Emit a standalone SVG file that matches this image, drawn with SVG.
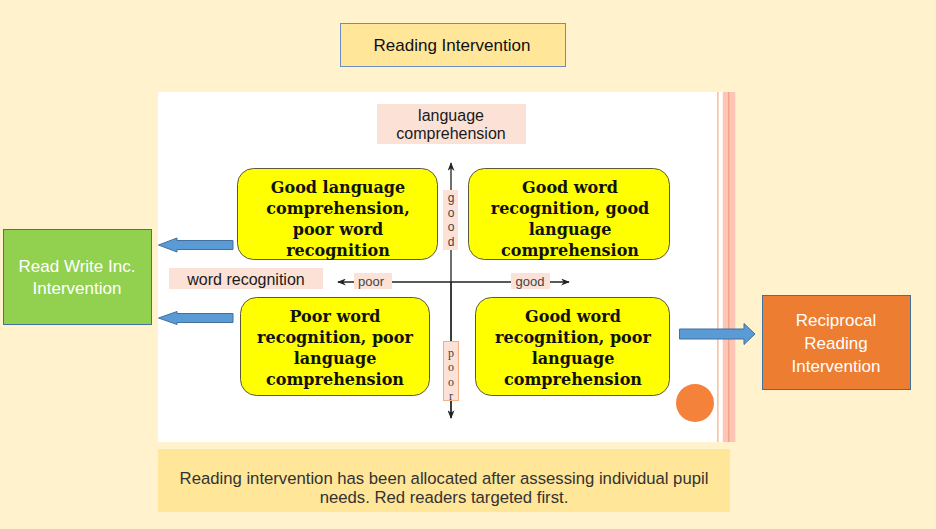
<svg xmlns="http://www.w3.org/2000/svg" width="936" height="529" viewBox="0 0 936 529">
<defs>
<style>
.sans{font-family:"Liberation Sans",Arial,sans-serif}
.quad{fill:#FFFF00;stroke:#5a5a3a;stroke-width:1}
.qt{font-family:"DejaVu Serif","Liberation Serif",serif;font-weight:bold;font-size:16px;fill:#111;text-anchor:middle}
.lbl{fill:#FCE2D6}
.lt{font-family:"Liberation Sans",Arial,sans-serif;font-size:16px;fill:#1a1a1a;text-anchor:middle}
.axl{font-family:"Liberation Sans",Arial,sans-serif;font-size:13px;fill:#444;text-anchor:middle}
.axv{font-family:"Liberation Sans",Arial,sans-serif;font-size:12px;fill:#444;text-anchor:middle}
.axs{font-family:"Liberation Serif",serif;font-size:12px;fill:#444;text-anchor:middle}
.blue{fill:#5B9BD5;stroke:#41719C;stroke-width:1}
.axis{stroke:#222;stroke-width:1.3;fill:none}
.wt{font-family:"Liberation Sans",Arial,sans-serif;font-size:17px;fill:#ffffff;text-anchor:middle}
</style>
<marker id="ah" viewBox="0 0 10 8" refX="9" refY="4" markerWidth="9" markerHeight="7" orient="auto" markerUnits="userSpaceOnUse">
<path d="M0,0 L10,4 L0,8 L3,4 z" fill="#222"/>
</marker>
</defs>
<rect x="0" y="0" width="936" height="529" fill="#FFF2CC"/>
<g id="panel">
<rect x="158" y="92" width="559" height="350" fill="#ffffff"/>
<rect x="717" y="92" width="1.8" height="350" fill="#F8C3B2"/>
<rect x="718.8" y="92" width="4" height="350" fill="#ffffff"/>
<rect x="722.8" y="92" width="12.5" height="350" fill="#FCC5B5"/>
<rect x="728" y="92" width="1.4" height="350" fill="#F2A488"/>
</g>
<g id="title">
<rect x="340.5" y="23.5" width="225" height="43" fill="#FFE699" stroke="#6C8EBF" stroke-width="1"/>
<text x="452" y="51" class="sans" font-size="17" fill="#111" text-anchor="middle">Reading Intervention</text>
</g>
<g id="axes">
<line x1="451" y1="418" x2="451" y2="163" class="axis" marker-end="url(#ah)"/>
<line x1="451" y1="282" x2="451" y2="418" class="axis" marker-end="url(#ah)"/>
<line x1="451" y1="282" x2="338" y2="282" class="axis" marker-end="url(#ah)"/>
<line x1="451" y1="282" x2="569" y2="282" class="axis" marker-end="url(#ah)"/>
</g>
<g id="label-lang">
<rect x="377" y="104" width="149" height="40" class="lbl"/>
<text x="451" y="121" class="lt">language</text>
<text x="451" y="139" class="lt">comprehension</text>
</g>
<g id="label-word">
<rect x="169" y="268" width="154" height="21" class="lbl"/>
<text x="246" y="284.5" class="lt">word recognition</text>
</g>
<g id="label-good-v">
<rect x="443" y="190" width="15" height="60" class="lbl"/>
<text x="451" y="202" class="axv">g</text>
<text x="451" y="216.5" class="axv">o</text>
<text x="451" y="231" class="axv">o</text>
<text x="451" y="245.5" class="axv">d</text>
</g>
<g id="label-poor-v">
<rect x="443.5" y="341.5" width="15" height="59" fill="#FCE2D6" stroke="#F4B183" stroke-width="1"/>
<text x="451" y="356.5" class="axs">p</text>
<text x="451" y="371" class="axs">o</text>
<text x="451" y="385.5" class="axs">o</text>
<text x="451" y="400" class="axs">r</text>
</g>
<g id="label-poor-h">
<rect x="354" y="273" width="38" height="16" class="lbl"/>
<text x="371" y="286" class="axl">poor</text>
</g>
<g id="label-good-h">
<rect x="511" y="273" width="39" height="16" class="lbl"/>
<text x="530" y="286" class="axl">good</text>
</g>
<g id="q-tl">
<rect x="237.5" y="168.5" width="200" height="91" rx="16" class="quad"/>
<text class="qt"><tspan x="338" y="193">Good language</tspan><tspan x="338" y="214">comprehension,</tspan><tspan x="338" y="235">poor word</tspan><tspan x="338" y="256">recognition</tspan></text>
</g>
<g id="q-tr">
<rect x="468.5" y="168.5" width="201" height="91" rx="16" class="quad"/>
<text class="qt"><tspan x="570" y="193">Good word</tspan><tspan x="570" y="214">recognition, good</tspan><tspan x="570" y="235">language</tspan><tspan x="570" y="256">comprehension</tspan></text>
</g>
<g id="q-bl">
<rect x="240.5" y="297.5" width="189" height="98" rx="16" class="quad"/>
<text class="qt"><tspan x="335" y="322">Poor word</tspan><tspan x="335" y="343">recognition, poor</tspan><tspan x="335" y="364">language</tspan><tspan x="335" y="385">comprehension</tspan></text>
</g>
<g id="q-br">
<rect x="475.5" y="297.5" width="194" height="98" rx="16" class="quad"/>
<text class="qt"><tspan x="573" y="322">Good word</tspan><tspan x="573" y="343">recognition, poor</tspan><tspan x="573" y="364">language</tspan><tspan x="573" y="385">comprehension</tspan></text>
</g>
<g id="dot">
<circle cx="695" cy="403" r="19" fill="#F5823A"/>
</g>
<g id="read-write">
<rect x="3.5" y="229.5" width="148" height="95" fill="#92D050" stroke="#41719C" stroke-width="1"/>
<text x="77" y="272" class="wt">Read Write Inc.</text>
<text x="77" y="294" class="wt">Intervention</text>
</g>
<g id="reciprocal">
<rect x="762.5" y="295.5" width="148" height="94" fill="#ED7D31" stroke="#41719C" stroke-width="1"/>
<text x="836" y="326" class="wt">Reciprocal</text>
<text x="836" y="349" class="wt">Reading</text>
<text x="836" y="372" class="wt">Intervention</text>
</g>
<g id="connectors">
<path d="M233,240.5 L177,240.5 L177,238 L158.5,245 L177,252 L177,249.5 L233,249.5 Z" class="blue"/>
<path d="M233,313.5 L177,313.5 L177,311.5 L158.5,318 L177,324.5 L177,322.5 L233,322.5 Z" class="blue"/>
<path d="M679.5,329 L744,329 L744,323.5 L755,334 L744,344.5 L744,339 L679.5,339 Z" class="blue"/>
</g>
<g id="caption">
<rect x="158" y="449" width="572" height="63" fill="#FFE699"/>
<text x="444" y="484" class="sans" font-size="16.7" fill="#333" text-anchor="middle">Reading intervention has been allocated after assessing individual pupil</text>
<text x="444" y="503" class="sans" font-size="16.7" fill="#333" text-anchor="middle">needs. Red readers targeted first.</text>
</g>
</svg>
